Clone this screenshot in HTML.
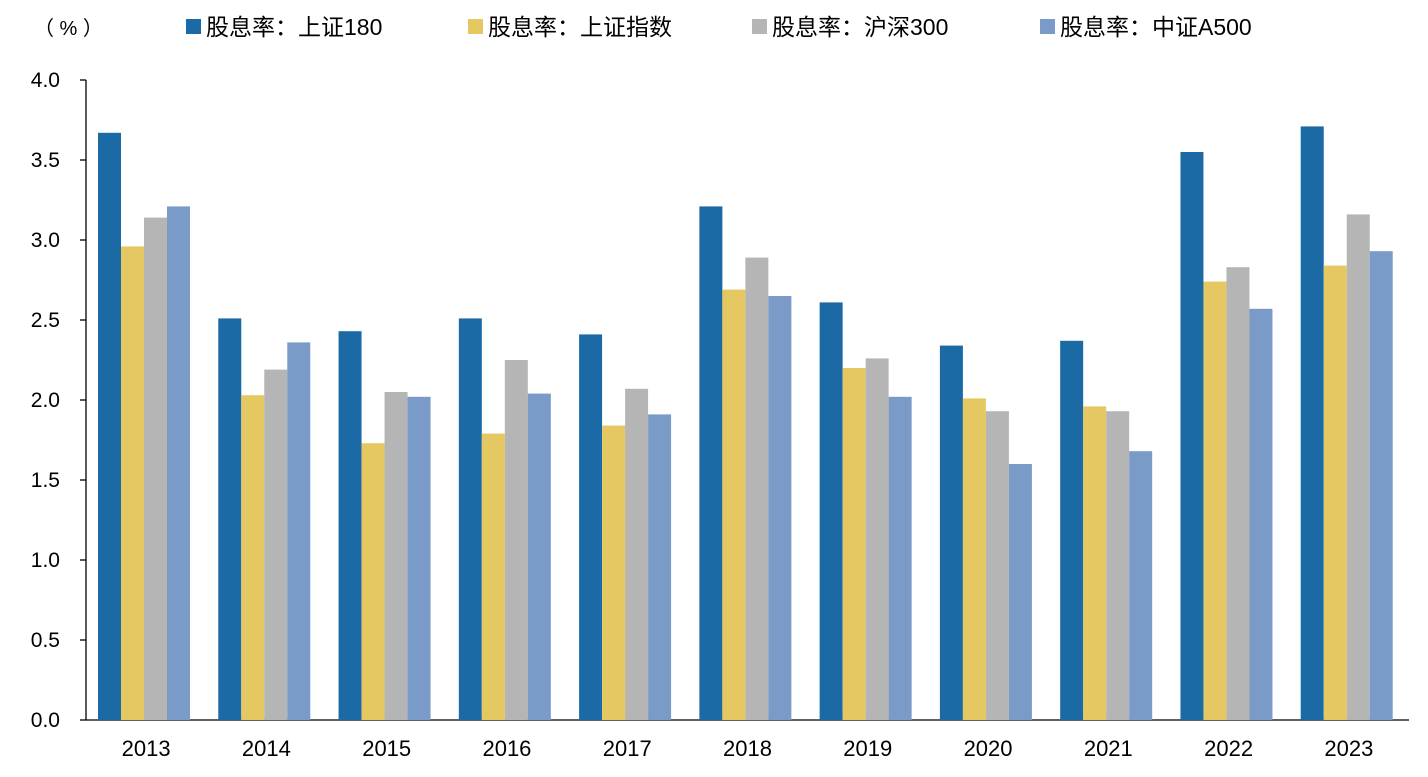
<!DOCTYPE html>
<html><head><meta charset="utf-8"><style>
body{margin:0;background:#fff;width:1428px;height:772px;overflow:hidden;font-family:"Liberation Sans","Noto Sans CJK SC",sans-serif}
</style></head><body>
<svg id="chart" width="1428" height="772" xmlns="http://www.w3.org/2000/svg" font-family="Liberation Sans, Noto Sans CJK SC, sans-serif">
<text x="34" y="35" font-size="20" fill="#000">（ % ）</text>
<g id="legend"></g>
<g id="axes"></g>
<g id="bars"></g>
</svg>
<script>
const categories=["2013","2014","2015","2016","2017","2018","2019","2020","2021","2022","2023"];
const seriesNames=["股息率：上证180","股息率：上证指数","股息率：沪深300","股息率：中证A500"];
const s180=[3.67,2.51,2.43,2.51,2.41,3.21,2.61,2.34,2.37,3.55,3.71];
const sIndex=[2.96,2.03,1.73,1.79,1.84,2.69,2.20,2.01,1.96,2.74,2.84];
const s300=[3.14,2.19,2.05,2.25,2.07,2.89,2.26,1.93,1.93,2.83,3.16];
const sA500=[3.21,2.36,2.02,2.04,1.91,2.65,2.02,1.60,1.68,2.57,2.93];
const yTicks=["0.0","0.5","1.0","1.5","2.0","2.5","3.0","3.5","4.0"];
const colors=["#1C6AA5","#E5C862","#B5B5B5","#7A9BC8"];
const NS="http://www.w3.org/2000/svg";
const x0=86,x1=1409,yBase=720,yTop=80,yMax=4;
const gw=(x1-x0)/categories.length;
const y=v=>yBase-(v/yMax)*(yBase-yTop);
function el(t,a,p){const e=document.createElementNS(NS,t);for(const k in a)e.setAttribute(k,a[k]);p.appendChild(e);return e;}
const axes=document.getElementById('axes'),bars=document.getElementById('bars'),legend=document.getElementById('legend');
const ya=el('line',{x1:x0,x2:x0,y1:yTop,y2:yBase,stroke:'#000','stroke-width':1.3},axes);


yTicks.forEach(t=>{const v=parseFloat(t);
 const tk=el('line',{x1:x0-6,x2:x0,y1:y(v),y2:y(v),stroke:'#000','stroke-width':1.3},axes);
 
 
 const lb=el('text',{x:60,y:y(v)+7,'text-anchor':'end','font-size':21,fill:'#000'},axes);lb.textContent=t;
 
 
});
const series=[s180,sIndex,s300,sA500];
const bw=23;
categories.forEach((c,i)=>{
 const gx=x0+i*gw;
 series.forEach((s,j)=>{
  const r=el('rect',{x:gx+12+j*bw,y:y(s[i]),width:bw,height:yBase-y(s[i]),fill:colors[j]},bars);
  
  
 });
 const lb=el('text',{x:gx+gw/2,y:756,'text-anchor':'middle','font-size':22,fill:'#000'},axes);lb.textContent=c;
 
 
});
const xa=el('line',{x1:x0,x2:x1,y1:yBase,y2:yBase,stroke:'#000','stroke-width':1.3},axes);


const lx=[186,468,752,1040];
seriesNames.forEach((n,j)=>{
 const g=el('g',{},legend);
 
 
 el('rect',{x:lx[j],y:19,width:15,height:15,fill:colors[j]},g);
 const t=el('text',{x:lx[j]+20,y:35,'font-size':23,fill:'#000'},g);t.textContent=n;
});
</script>
</body></html>
